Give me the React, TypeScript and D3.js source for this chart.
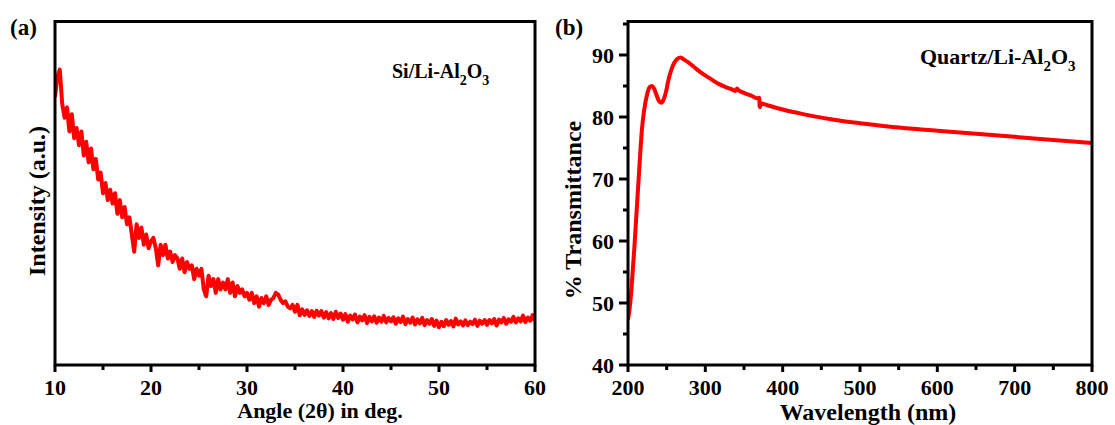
import React from "react";
import * as d3 from "d3";

// ---------- Panel (a): XRD pattern ----------
const xrdStart = 10.0;
const xrdStep = 0.25;
const xrdIntensity = [
  78, 84, 86, 76, 72, 75, 68, 73, 66, 69, 64,
  68, 61, 65, 59, 63, 57, 60, 54, 56, 50,
  53, 48, 51, 47, 50, 44, 48, 43, 46, 41,
  43, 38, 33, 41, 37, 40, 35, 38, 34, 36,
  37, 34, 29, 35, 32, 35, 31, 33, 30, 32,
  31, 28, 31, 27, 30, 28, 29, 25, 28, 26,
  28, 22, 20, 26, 23, 25, 21, 25, 22, 24,
  22, 25, 21, 24, 20, 23, 21, 22, 20, 21,
  19, 21, 18, 20, 17, 19.5, 18, 20, 17.5, 19,
  19.5, 21, 20.5, 19, 18, 18.5, 17, 16.5, 17.5, 15.5,
  17.5, 14.5, 16.2, 14.6, 15.9, 14.3, 15.7, 14.0, 15.8, 14.4,
  15.7, 13.8, 15.4, 13.6, 15.1, 13.4, 15.5, 13.7, 15.0, 13.2,
  14.8, 12.6, 14.4, 13.3, 14.7, 12.4, 14.1, 13.0, 14.5, 12.2,
  14.0, 12.7, 14.2, 12.3, 13.8, 12.6, 14.3, 12.4, 13.7, 12.7,
  13.9, 12.0, 13.6, 12.5, 14.1, 11.9, 13.4, 12.3, 13.8, 11.8,
  13.3, 12.1, 13.7, 11.6, 13.1, 12.0, 13.4, 11.4, 12.9, 11.0,
  12.6, 11.3, 13.1, 11.7, 12.8, 11.2, 13.5, 11.8, 12.7, 11.5,
  13.0, 11.6, 12.6, 11.9, 13.2, 11.4, 12.9, 12.0, 13.1, 11.7,
  13.1, 12.1, 13.4, 11.5, 13.2, 12.4, 13.7, 12.0, 13.3, 12.6,
  14.0, 12.4, 13.6, 12.7, 14.4, 12.5, 13.8, 12.9, 14.5, 12.8,
];
const xrdMajorTicks = [10, 20, 30, 40, 50, 60];
const xrdMinorTicks = [15, 25, 35, 45, 55];

// ---------- Panel (b): UV-vis transmittance ----------
const wavelength = [
  200, 202, 204, 206, 208, 210, 212, 214, 216, 218, 220, 222, 225, 228, 231,
  234, 237, 240, 243, 246, 249, 252, 256, 260, 264, 268, 272, 278, 285, 295,
  305, 315, 325, 335, 339, 341, 343, 350, 360, 368, 369.5, 370.5, 372, 380,
  400, 425, 450, 475, 500, 550, 600, 650, 700, 750, 800,
];
const transmittance = [
  47.3, 49, 51.5, 55, 58.5, 62.5, 66.5, 70.5, 74.5, 78, 80.3, 82, 83.8, 84.8, 85.0,
  84.5, 83.5, 82.6, 82.3, 82.8, 84.0, 85.8, 87.6, 88.8, 89.4, 89.6, 89.3, 88.8, 88.1, 87.1,
  86.3, 85.5, 84.9, 84.4, 84.2, 84.6, 84.3, 83.9, 83.4, 83.0, 83.1, 81.6, 82.2, 81.9,
  81.2, 80.5, 79.9, 79.4, 79.0, 78.3, 77.8, 77.3, 76.8, 76.3, 75.8,
];
const wlMajorTicks = [200, 300, 400, 500, 600, 700, 800];
const wlMinorTicks = [250, 350, 450, 550, 650, 750];
const tMajorTicks = [40, 50, 60, 70, 80, 90];
const tMinorTicks = [45, 55, 65, 75, 85, 95];

const FONT = "'Liberation Serif', 'Times New Roman', serif";
const RED = "#ff0000";

export default function App() {
  // panel a geometry
  const aL = 55, aR = 535, top = 21.5, bottom = 365;
  const xA = d3.scaleLinear().domain([10, 60]).range([aL, aR]);
  const yA = d3.scaleLinear().domain([0, 100]).range([bottom, top]);
  const xrdData = xrdIntensity.map((v, i) => [xrdStart + i * xrdStep, v] as [number, number]);
  const lineA = d3
    .line<[number, number]>()
    .x((d) => xA(d[0]))
    .y((d) => yA(d[1]));

  // panel b geometry
  const bL = 628, bR = 1092;
  const xB = d3.scaleLinear().domain([200, 800]).range([bL, bR]);
  const yB = d3.scaleLinear().domain([40, 90]).range([bottom, 55]);
  const uvData = wavelength.map((w, i) => [w, transmittance[i]] as [number, number]);
  const lineB = d3
    .line<[number, number]>()
    .x((d) => xB(d[0]))
    .y((d) => yB(d[1]))
    .curve(d3.curveMonotoneX);

  const axisStroke = 3;
  const tickFont = 22;

  return (
    <svg
      width={1115}
      height={425}
      style={{ position: "absolute", left: 0, top: 0, background: "#fff" }}
      fontFamily={FONT}
      fontWeight="bold"
    >
      <rect x={0} y={0} width={1115} height={425} fill="#fff" />
      <defs>
        <clipPath id="clipA">
          <rect x={aL} y={top} width={aR - aL} height={bottom - top} />
        </clipPath>
        <clipPath id="clipB">
          <rect x={bL} y={top} width={bR - bL} height={bottom - top} />
        </clipPath>
      </defs>

      {/* ---------- Panel (a) ---------- */}
      <text x={10} y={35} fontSize={23}>(a)</text>
      <path
        d={lineA(xrdData) || ""}
        fill="none"
        stroke={RED}
        strokeWidth={4}
        strokeLinejoin="round"
        clipPath="url(#clipA)"
      />
      <rect x={aL} y={top} width={aR - aL} height={bottom - top} fill="none" stroke="#000" strokeWidth={axisStroke} />
      {xrdMajorTicks.map((t) => (
        <g key={"am" + t}>
          <line x1={xA(t)} x2={xA(t)} y1={bottom} y2={bottom + 7} stroke="#000" strokeWidth={axisStroke} />
          <text x={xA(t)} y={395} fontSize={tickFont} textAnchor="middle">{t}</text>
        </g>
      ))}
      {xrdMinorTicks.map((t) => (
        <line key={"an" + t} x1={xA(t)} x2={xA(t)} y1={bottom} y2={bottom + 5} stroke="#000" strokeWidth={axisStroke} />
      ))}
      <text x={320} y={418} fontSize={22} textAnchor="middle">Angle (2θ) in deg.</text>
      <text
        transform={`translate(45,201) rotate(-90)`}
        fontSize={24}
        textAnchor="middle"
      >
        Intensity (a.u.)
      </text>
      <text x={392} y={78} fontSize={20}>
        Si/Li-Al
        <tspan fontSize={14} dy={7}>2</tspan>
        <tspan dy={-7}>O</tspan>
        <tspan fontSize={14} dy={7}>3</tspan>
      </text>

      {/* ---------- Panel (b) ---------- */}
      <text x={555} y={35} fontSize={23}>(b)</text>
      <path
        d={lineB(uvData) || ""}
        fill="none"
        stroke={RED}
        strokeWidth={4}
        strokeLinejoin="round"
        clipPath="url(#clipB)"
      />
      <rect x={bL} y={top} width={bR - bL} height={bottom - top} fill="none" stroke="#000" strokeWidth={axisStroke} />
      {wlMajorTicks.map((t) => (
        <g key={"bm" + t}>
          <line x1={xB(t)} x2={xB(t)} y1={bottom} y2={bottom + 7} stroke="#000" strokeWidth={axisStroke} />
          <text x={xB(t)} y={395} fontSize={tickFont} textAnchor="middle">{t}</text>
        </g>
      ))}
      {wlMinorTicks.map((t) => (
        <line key={"bn" + t} x1={xB(t)} x2={xB(t)} y1={bottom} y2={bottom + 5} stroke="#000" strokeWidth={axisStroke} />
      ))}
      {tMajorTicks.map((t) => (
        <g key={"ym" + t}>
          <line x1={bL - 9} x2={bL} y1={yB(t)} y2={yB(t)} stroke="#000" strokeWidth={axisStroke} />
          <text x={614} y={yB(t)} dy="0.35em" fontSize={tickFont} textAnchor="end">{t}</text>
        </g>
      ))}
      {tMinorTicks.filter((t) => yB(t) > top + 2).map((t) => (
        <line key={"yn" + t} x1={bL - 5} x2={bL} y1={yB(t)} y2={yB(t)} stroke="#000" strokeWidth={axisStroke} />
      ))}
      <text x={868} y={420} fontSize={24} textAnchor="middle">Wavelength (nm)</text>
      <text
        transform={`translate(581,210) rotate(-90)`}
        fontSize={24}
        textAnchor="middle"
      >
        % Transmittance
      </text>
      <text x={920} y={64} fontSize={22}>
        Quartz/Li-Al
        <tspan fontSize={15} dy={7}>2</tspan>
        <tspan dy={-7}>O</tspan>
        <tspan fontSize={15} dy={7}>3</tspan>
      </text>
    </svg>
  );
}
